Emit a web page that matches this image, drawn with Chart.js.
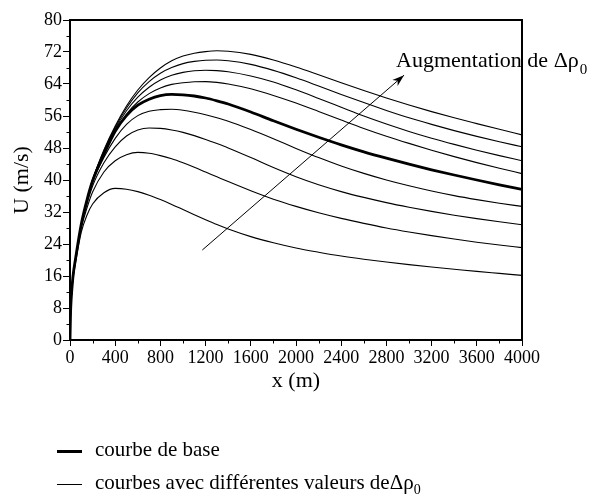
<!DOCTYPE html>
<html><head><meta charset="utf-8">
<script src="https://cdn.jsdelivr.net/npm/chart.js@4.4.0/dist/chart.umd.min.js"></script>
<style>
html,body{margin:0;padding:0;background:#fff;}
#wrap{position:relative;width:598px;height:497px;overflow:hidden;}
canvas{position:absolute;left:0;top:0;}
.lt{position:absolute;left:95px;font-family:'Liberation Serif','Times New Roman',serif;font-size:21px;line-height:21px;color:#000;white-space:nowrap;}
.lt sub{font-size:14px;vertical-align:-5px;line-height:0;}
.sw{position:absolute;left:57px;width:25px;background:#000;}
</style></head>
<body>
<div id="wrap">
<canvas id="c" width="598" height="497"></canvas>
<div class="sw" style="top:450px;height:3px;"></div>
<div class="lt" style="top:439px;">courbe de base</div>
<div class="sw" style="top:484px;height:1px;"></div>
<div class="lt" style="top:472px;">courbes avec différentes valeurs deΔρ<sub>0</sub></div>
</div>
<script>
// distance x (m)
const xs = [0, 5, 10, 25, 50, 100, 150, 200, 300, 400, 500, 600, 700, 800, 900, 1000, 1100, 1200, 1300, 1400, 1600, 1800, 2000, 2200, 2400, 2600, 2800, 3000, 3200, 3400, 3600, 3800, 4000];
// U (m/s) for increasing Δρ0 (bottom to top)
const curveL4 = [0, 7, 10, 14.8, 19.5, 27, 31.2, 34, 36.8, 37.9, 37.7, 37.1, 36.2, 35.1, 33.9, 32.6, 31.3, 30.05, 28.85, 27.75, 25.85, 24.3, 23.0, 21.95, 21.0, 20.2, 19.5, 18.85, 18.25, 17.7, 17.15, 16.65, 16.15];
const curveL3 = [0, 7, 10, 15.2, 20, 28, 33, 37, 42, 44.8, 46.3, 46.9, 46.7, 46.1, 45.3, 44.3, 43.2, 42.0, 40.8, 39.6, 37.3, 35.2, 33.4, 31.8, 30.4, 29.15, 28.0, 27.0, 26.1, 25.25, 24.45, 23.75, 23.1];
const curveL2 = [0, 7, 10, 15.3, 20.3, 28.5, 34, 38.5, 44.3, 48.3, 51.0, 52.5, 53.0, 52.9, 52.5, 51.9, 51.1, 50.15, 49.1, 48.0, 45.6, 43.1, 40.8, 38.8, 37.1, 35.65, 34.35, 33.2, 32.15, 31.2, 30.35, 29.55, 28.8];
const curveL1 = [0, 7, 10, 15.5, 20.5, 28.8, 34.7, 39.5, 45.6, 50.4, 53.9, 56.1, 57.2, 57.6, 57.7, 57.45, 56.95, 56.3, 55.55, 54.7, 52.6, 50.3, 47.9, 45.6, 43.5, 41.65, 40.0, 38.55, 37.25, 36.1, 35.1, 34.2, 33.4];
const curveBase = [0, 7, 10, 15.5, 20.5, 29, 35, 39.8, 46.4, 52.2, 56.1, 58.7, 60.2, 61.1, 61.4, 61.3, 61.0, 60.5, 59.8, 59.0, 57.0, 54.8, 52.7, 50.7, 48.8, 47.05, 45.45, 43.95, 42.55, 41.25, 40.0, 38.8, 37.65];
const curveC4 = [0, 7, 10, 15.5, 20.5, 29, 35, 40, 46.7, 52.3, 56.5, 59.5, 61.6, 63.0, 63.9, 64.3, 64.55, 64.6, 64.4, 64.0, 62.8, 61.15, 59.25, 57.15, 55.0, 52.9, 50.95, 49.15, 47.45, 45.85, 44.35, 42.95, 41.6];
const curveC3 = [0, 7, 10, 15.5, 20.5, 29, 35, 40, 47.0, 52.8, 57.3, 60.7, 63.2, 65.0, 66.2, 66.9, 67.3, 67.45, 67.35, 67.05, 66.0, 64.5, 62.55, 60.4, 58.2, 56.0, 54.0, 52.15, 50.45, 48.9, 47.45, 46.1, 44.8];
const curveC2 = [0, 7, 10, 15.5, 20.5, 29, 35, 40, 47.3, 53.2, 58, 61.8, 64.6, 66.7, 68.1, 69.1, 69.65, 69.95, 70.0, 69.8, 68.9, 67.4, 65.55, 63.5, 61.4, 59.35, 57.4, 55.55, 53.9, 52.35, 50.9, 49.55, 48.3];
const curveC1 = [0, 7, 10, 15.5, 20.5, 29, 35, 40, 47.5, 53.5, 58.5, 62.5, 65.6, 68.0, 69.8, 71.0, 71.7, 72.1, 72.3, 72.2, 71.4, 70.0, 68.25, 66.3, 64.3, 62.35, 60.5, 58.75, 57.1, 55.55, 54.1, 52.68, 51.28];
// arrow (data coordinates): start, tip
const arrowX = [1171, 2956];
const arrowY = [22.5, 66.2];
// annotation anchor (data coordinates)
const noteX = 2885;
const noteY = 68.3;
const noteText = 'Augmentation de Δρ';
const noteSub = '0';
// ticks
const xMinorTicks = [200, 600, 1000, 1400, 1800, 2200, 2600, 3000, 3400, 3800];
const yMinorTicks = [4, 12, 20, 28, 36, 44, 52, 60, 68, 76];

const SERIF = "'Liberation Serif', 'Times New Roman', serif";
const toPts = arr => arr.map((v, i) => ({x: xs[i], y: v}));
const thin = arr => ({data: toPts(arr), borderColor: '#000', borderWidth: 1.1, pointRadius: 0, fill: false, cubicInterpolationMode: 'monotone'});

const datasets = [
  thin(curveL4), thin(curveL3), thin(curveL2), thin(curveL1),
  {data: toPts(curveBase), borderColor: '#000', borderWidth: 2.8, pointRadius: 0, fill: false, cubicInterpolationMode: 'monotone'},
  thin(curveC4), thin(curveC3), thin(curveC2), thin(curveC1),
  {data: arrowX.map((v, i) => ({x: v, y: arrowY[i]})), borderColor: '#000', borderWidth: 1, pointRadius: 0, fill: false}
];

const extras = {
  id: 'extras',
  afterDatasetsDraw(chart) {
    const {ctx, chartArea: a, scales: {x, y}} = chart;
    ctx.save();
    ctx.strokeStyle = '#000';
    ctx.fillStyle = '#000';
    ctx.lineWidth = 1;
    for (const v of xMinorTicks) {
      const px = Math.round(x.getPixelForValue(v)) + 0.5;
      ctx.beginPath(); ctx.moveTo(px, a.bottom); ctx.lineTo(px, a.bottom + 3.5); ctx.stroke();
    }
    for (const v of yMinorTicks) {
      const py = Math.round(y.getPixelForValue(v)) + 0.5;
      ctx.beginPath(); ctx.moveTo(a.left, py); ctx.lineTo(a.left - 3.5, py); ctx.stroke();
    }
    // arrow head
    const x1 = x.getPixelForValue(arrowX[0]), y1 = y.getPixelForValue(arrowY[0]);
    const x2 = x.getPixelForValue(arrowX[1]), y2 = y.getPixelForValue(arrowY[1]);
    const ang = Math.atan2(y2 - y1, x2 - x1);
    const L = 12, W = 4;
    const bx = x2 - L * Math.cos(ang), by = y2 - L * Math.sin(ang);
    ctx.beginPath();
    ctx.moveTo(x2, y2);
    ctx.lineTo(bx + W * Math.sin(ang), by - W * Math.cos(ang));
    ctx.lineTo(x2 - 0.7 * L * Math.cos(ang), y2 - 0.7 * L * Math.sin(ang));
    ctx.lineTo(bx - W * Math.sin(ang), by + W * Math.cos(ang));
    ctx.closePath();
    ctx.fill();
    // annotation
    const nx = x.getPixelForValue(noteX), ny = y.getPixelForValue(noteY);
    ctx.font = '22px ' + SERIF;
    ctx.textBaseline = 'alphabetic';
    ctx.textAlign = 'left';
    ctx.fillText(noteText, nx, ny);
    const w = ctx.measureText(noteText).width;
    ctx.font = '15px ' + SERIF;
    ctx.fillText(noteSub, nx + w + 1, ny + 7);
    // frame
    ctx.lineWidth = 2;
    ctx.strokeRect(a.left, a.top, a.right - a.left, a.bottom - a.top);
    ctx.restore();
  }
};

new Chart(document.getElementById('c'), {
  type: 'line',
  data: {datasets},
  options: {
    responsive: false,
    animation: false,
    devicePixelRatio: 1,
    layout: {padding: {left: 0, right: 76, top: 20, bottom: 103}},
    plugins: {legend: {display: false}, tooltip: {enabled: false}},
    scales: {
      x: {
        type: 'linear', min: 0, max: 4000,
        afterFit(s) { s.height = 54; },
        ticks: {stepSize: 400, color: '#000', font: {family: SERIF, size: 18}, padding: 1, maxRotation: 0, autoSkip: false, callback: v => String(v)},
        grid: {drawOnChartArea: false, drawTicks: true, tickLength: 6, color: '#000', tickWidth: 1},
        border: {display: true, color: '#000', width: 2},
        title: {display: true, text: 'x (m)', color: '#000', font: {family: SERIF, size: 22}, padding: {top: 0, bottom: 0}}
      },
      y: {
        type: 'linear', min: 0, max: 80,
        afterFit(s) { s.width = 70; },
        ticks: {stepSize: 8, color: '#000', font: {family: SERIF, size: 18}, padding: 1, autoSkip: false, callback: v => String(v)},
        grid: {drawOnChartArea: false, drawTicks: true, tickLength: 7, color: '#000', tickWidth: 1},
        border: {display: true, color: '#000', width: 2},
        title: {display: true, text: 'U (m/s)', color: '#000', font: {family: SERIF, size: 22}, padding: {top: 9, bottom: 0}}
      }
    }
  },
  plugins: [extras]
});
</script>
</body></html>
